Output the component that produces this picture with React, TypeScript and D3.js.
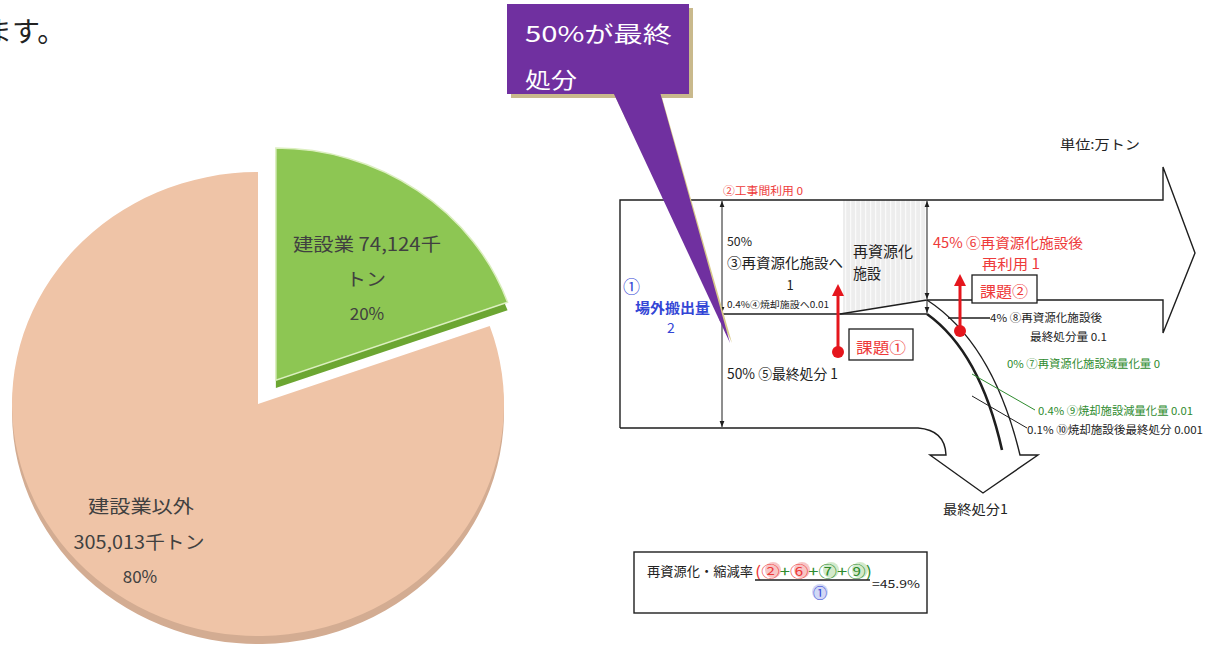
import React from "react";
import * as d3 from "d3";

// ---------- data ----------
const pieCategories = ["建設業", "建設業以外"];
const pieValues = [74124, 305013];
const pieUnit = "千トン";
const piePercentLabels = ["20%", "80%"];

const flowNumbers = ["①", "②", "③", "④", "⑤", "⑥", "⑦", "⑧", "⑨", "⑩"];
const flowNames = [
  "場外搬出量",
  "工事間利用",
  "再資源化施設へ",
  "焼却施設へ",
  "最終処分",
  "再資源化施設後再利用",
  "再資源化施設減量化量",
  "再資源化施設後最終処分量",
  "焼却施設減量化量",
  "焼却施設後最終処分",
];
const flowShares = ["", "", "50%", "0.4%", "50%", "45%", "0%", "4%", "0.4%", "0.1%"];
const flowAmounts = ["2", "0", "1", "0.01", "1", "1", "0", "0.1", "0.01", "0.001"];
const recycleRate = "45.9%";
const finalDisposalTotal = "1";
const unitLabel = "単位:万トン";
const facilityLabel = ["再資源化", "施設"];
const calloutLines = ["50%が最終", "処分"];
const issueLabels = ["課題①", "課題②"];
const rateTitle = "再資源化・縮減率";
const introText = "ます。";

const FF = "'Noto Sans CJK JP', 'Noto Sans', sans-serif";

type TP = {
  x: number; y: number; s: number; c?: string; w?: number; a?: string; fw?: number; children: any;
};
const T = ({ x, y, s, c = "#222", w, a = "start", fw = 400, children }: TP) => (
  <text
    x={x}
    y={y}
    fontSize={s}
    fill={c}
    textAnchor={a as any}
    dominantBaseline="central"
    fontWeight={fw}
    fontFamily={FF}
    textLength={w}
    lengthAdjust={w ? "spacingAndGlyphs" : undefined}
  >
    {children}
  </text>
);

export default function App() {
  // ---------- pie ----------
  const cx = 258, cy = 404, rx = 246, ry = 232, depth = 8;
  const pie = d3.pie<number>().sort(null).startAngle(0).endAngle(2 * Math.PI)(pieValues);
  const arc = d3.arc<d3.PieArcDatum<number>>().innerRadius(0).outerRadius(rx);
  const sy = ry / rx;
  const explode = [31, 0];
  const topColors = ["#8DC653", "#EFC4A7"];
  const sideColors = ["#6CA632", "#D3AC92"];

  const slices = pie.map((p, i) => {
    const mid = (p.startAngle + p.endAngle) / 2;
    const dx = Math.sin(mid) * explode[i];
    const dy = -Math.cos(mid) * explode[i] * sy;
    return { p, i, dx, dy, d: arc(p) as string };
  });

  const red = "#E5161D";
  const redText = "#EE3A3A";
  const green = "#2E8B2E";
  const blue = "#3346D6";
  const ink = "#1e1e1e";

  const t = (i: number) => flowNumbers[i] + flowNames[i];

  return (
    <svg
      width={1211}
      height={657}
      style={{ position: "absolute", left: 0, top: 0, background: "#fff" }}
    >
      <defs>
        <marker id="ah" viewBox="0 0 10 10" refX="10" refY="5" markerWidth="6" markerHeight="6" orient="auto-start-reverse">
          <path d="M0,1 L10,5 L0,9 z" fill={ink} />
        </marker>
        <pattern id="hatch" width="5" height="5" patternUnits="userSpaceOnUse">
          <rect width="5" height="5" fill="#EDEDED" />
          <line x1="0.5" y1="0" x2="0.5" y2="5" stroke="#FAFAFA" strokeWidth="1.5" />
        </pattern>
      </defs>

      {/* intro text (cut at the left edge as in the source) */}
      <text x={-16} y={30} fontSize={28} fill="#222" fontFamily={FF} dominantBaseline="central">
        {introText}
      </text>

      {/* ---------- pie ---------- */}
      {slices.map((s) => (
        <path
          key={"side" + s.i}
          d={s.d}
          fill={sideColors[s.i]}
          transform={`translate(${cx + s.dx},${cy + s.dy + depth}) scale(1,${sy})`}
        />
      ))}
      {slices.map((s) => (
        <path
          key={"top" + s.i}
          d={s.d}
          fill={topColors[s.i]}
          stroke={s.i === 0 ? "#DCEFC0" : "none"}
          strokeWidth={s.i === 0 ? 1.5 : 0}
          vectorEffect="non-scaling-stroke"
          transform={`translate(${cx + s.dx},${cy + s.dy}) scale(1,${sy})`}
        />
      ))}
      {/* pie labels */}
      <T x={367} y={243} s={18} c="#404040" a="middle" w={148}>
        {pieCategories[0] + " " + d3.format(",")(pieValues[0]) + pieUnit.slice(0, 1)}
      </T>
      <T x={366} y={278} s={18} c="#404040" a="middle" w={40}>
        {pieUnit.slice(1)}
      </T>
      <T x={367} y={312} s={17} c="#404040" a="middle">
        {piePercentLabels[0]}
      </T>
      <T x={141} y={505} s={18} c="#404040" a="middle" w={106}>
        {pieCategories[1]}
      </T>
      <T x={139} y={541} s={18} c="#404040" a="middle" w={131}>
        {d3.format(",")(pieValues[1]) + pieUnit}
      </T>
      <T x={140} y={575} s={17} c="#404040" a="middle">
        {piePercentLabels[1]}
      </T>

      {/* ---------- flow diagram ---------- */}
      <polygon points="843,200 927,200 927,300 843,314" fill="url(#hatch)" />
      <g fill="none" stroke={ink} strokeWidth={1.4}>
        <path d="M620,428 V200 H1163 V167 L1195,253 L1163,333 V300 H927" />
        <path d="M620,428 H918 Q945,430 946,455 L930,455 L983,493 L1038,455 L1020,455 Q993,343 927,300" />
        <line x1={722} y1={314} x2={927} y2={314} />
        <line x1={840} y1={314} x2={927} y2={300} />
        <line x1={948} y1={318} x2={990} y2={318} />
        <line x1={1027} y1={428} x2={972} y2={396} strokeWidth={1} />
      </g>
      <path d="M927,314 Q980,352 1002,450" fill="none" stroke={ink} strokeWidth={2.6} />
      <line x1={1035} y1={410} x2={972} y2={374} stroke={green} strokeWidth={1} />
      {/* dimension arrows */}
      <g stroke={ink} strokeWidth={1}>
        <line x1={722} y1={201} x2={722} y2={313} markerStart="url(#ah)" markerEnd="url(#ah)" />
        <line x1={722} y1={315} x2={722} y2={427} markerStart="url(#ah)" markerEnd="url(#ah)" />
        <line x1={927} y1={201} x2={927} y2={299} markerStart="url(#ah)" markerEnd="url(#ah)" />
        <line x1={927} y1={301} x2={927} y2={313} markerEnd="url(#ah)" />
      </g>

      {/* red issue arrows */}
      <line x1={838} y1={352} x2={838} y2={294} stroke={red} strokeWidth={3} />
      <polygon points="838,284 832,296 844,296" fill={red} />
      <circle cx={838} cy={352} r={6} fill={red} />
      <rect x={849} y={329} width={64} height={31} fill="#fff" stroke={ink} strokeWidth={1.3} />
      <T x={881} y={346} s={15} c={redText} a="middle" w={50}>{issueLabels[0]}</T>

      <line x1={960} y1={331} x2={960} y2={284} stroke={red} strokeWidth={3} />
      <polygon points="960,274 954,286 966,286" fill={red} />
      <circle cx={960} cy={331} r={6} fill={red} />
      <rect x={972} y={275} width={65} height={28} fill="#fff" stroke={ink} strokeWidth={1.3} />
      <T x={1004} y={290} s={15} c={redText} a="middle" w={48}>{issueLabels[1]}</T>

      {/* flow labels */}
      <T x={1060} y={143} s={13} w={80}>{unitLabel}</T>
      <T x={723} y={190} s={11} c={redText} w={80}>{t(1) + " " + flowAmounts[1]}</T>
      <T x={727} y={240} s={12} w={25}>{flowShares[2]}</T>
      <T x={727} y={262} s={14} w={116}>{t(2)}</T>
      <T x={790} y={284} s={13} a="middle">{flowAmounts[2]}</T>
      <T x={727} y={304} s={9} w={102}>{flowShares[3] + t(3) + flowAmounts[3]}</T>
      <T x={623} y={285} s={17} c={blue}>{flowNumbers[0]}</T>
      <T x={635} y={307} s={14} c={blue} w={75} fw={700}>{flowNames[0]}</T>
      <T x={671} y={327} s={14} c={blue} a="middle">{flowAmounts[0]}</T>
      <T x={727} y={373} s={14} w={111}>{flowShares[4] + " " + t(4) + " " + flowAmounts[4]}</T>
      <T x={853} y={250} s={15} w={60}>{facilityLabel[0]}</T>
      <T x={853} y={272} s={15} w={28}>{facilityLabel[1]}</T>
      <T x={933} y={242} s={14} c={redText} w={150}>{flowShares[5] + " " + flowNumbers[5] + flowNames[5].slice(0, 7)}</T>
      <T x={982} y={263} s={14} c={redText} w={58}>{flowNames[5].slice(7) + " " + flowAmounts[5]}</T>
      <T x={990} y={317} s={11} w={112}>{flowShares[7] + " " + flowNumbers[7] + flowNames[7].slice(0, 7)}</T>
      <T x={1030} y={336} s={11} w={77}>{flowNames[7].slice(7) + " " + flowAmounts[7]}</T>
      <T x={1007} y={363} s={11} c={green} w={153}>{flowShares[6] + " " + t(6) + " " + flowAmounts[6]}</T>
      <T x={1038} y={410} s={11} c={green} w={155}>{flowShares[8] + " " + t(8) + " " + flowAmounts[8]}</T>
      <T x={1027} y={429} s={11} w={176}>{flowShares[9] + " " + t(9) + " " + flowAmounts[9]}</T>
      <T x={943} y={508} s={13} w={65}>{flowNames[4] + finalDisposalTotal}</T>

      {/* formula box */}
      <rect x={634} y={552} width={293} height={61} fill="#fff" stroke={ink} strokeWidth={1.4} />
      <T x={647} y={570} s={13} w={106}>{rateTitle}</T>
      <circle cx={773} cy={570} r={8} fill="#F7C6C6" />
      <circle cx={802} cy={570} r={8} fill="#F7C6C6" />
      <circle cx={831} cy={570} r={8} fill="#D3EACB" />
      <circle cx={860} cy={570} r={8} fill="#D3EACB" />
      <circle cx={820} cy={592} r={8} fill="#D2D8F5" />
      <text x={755} y={570} fontSize={15} dominantBaseline="central" fontFamily={FF} textLength={117} lengthAdjust="spacingAndGlyphs">
        <tspan fill={redText}>(</tspan>
        <tspan fill={redText}>{flowNumbers[1]}</tspan>
        <tspan fill={green}>+</tspan>
        <tspan fill={redText}>{flowNumbers[5]}</tspan>
        <tspan fill={green}>+</tspan>
        <tspan fill={green}>{flowNumbers[6]}</tspan>
        <tspan fill={green}>+</tspan>
        <tspan fill={green}>{flowNumbers[8]}</tspan>
        <tspan fill={green}>)</tspan>
      </text>
      <line x1={755} y1={580} x2={870} y2={580} stroke={ink} strokeWidth={1.4} />
      <T x={820} y={592} s={14} c={blue} a="middle">{flowNumbers[0]}</T>
      <T x={872} y={583} s={11} w={48}>{"=" + recycleRate}</T>

      {/* ---------- purple callout ---------- */}
      <rect x={511} y={8} width={182} height={90} fill="#C9B98C" />
      <polygon points="613,94 660,94 731,343" fill="#D8C98A" transform="translate(1,0)" />
      <rect x={507} y={4} width={182} height={90} fill="#7030A0" />
      <polygon points="613,92 660,92 730,343" fill="#7030A0" />
      <T x={525} y={32} s={22} c="#fff" w={147}>{calloutLines[0]}</T>
      <T x={525} y={78} s={22} c="#fff" w={52}>{calloutLines[1]}</T>
    </svg>
  );
}
